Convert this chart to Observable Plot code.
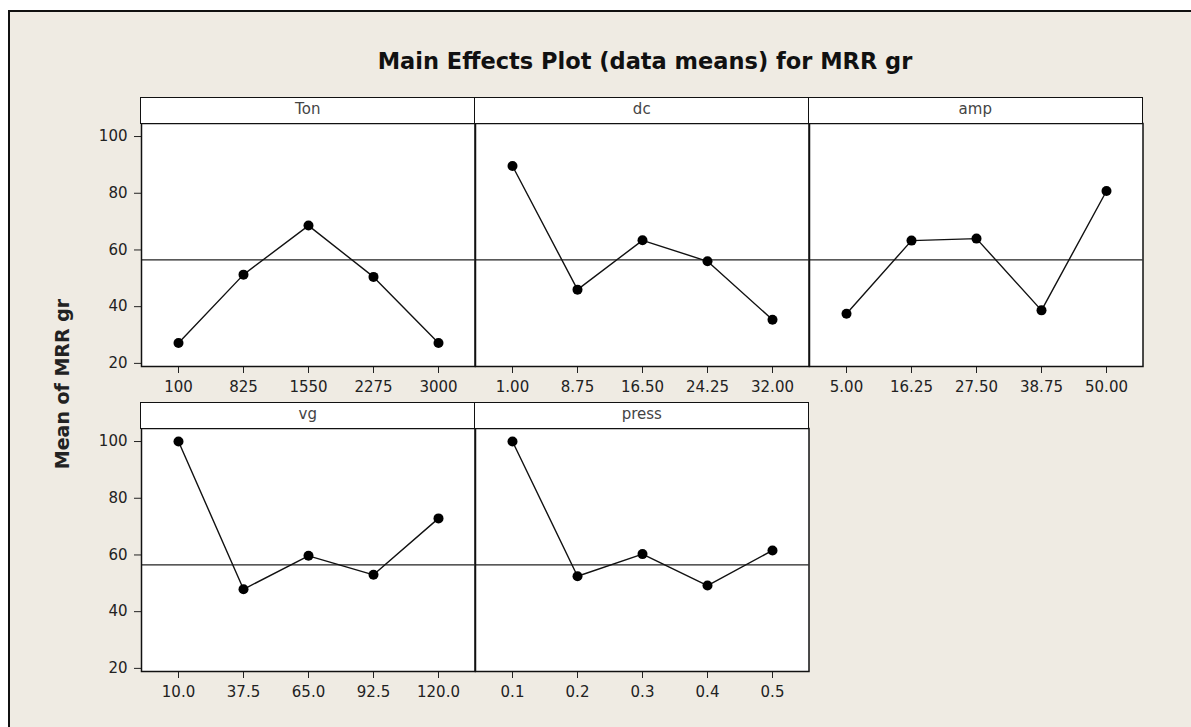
<!DOCTYPE html>
<html>
<head>
<meta charset="utf-8">
<script src="https://cdn.jsdelivr.net/npm/d3@7"></script>
<script src="https://cdn.jsdelivr.net/npm/@observablehq/plot@0.6"></script>
<style>
  html, body { margin: 0; padding: 0; background: #ffffff; }
  #fig { position: absolute; left: 8px; top: 10px; width: 1183px; height: 717px;
         background: #efebe3; border-top: 2px solid #111; border-left: 2px solid #111; box-sizing: border-box; }
  .abs { position: absolute; }
  #title { left: 145px; width: 1000px; top: 48px; text-align: center;
           font-family: "DejaVu Sans", sans-serif; font-weight: bold; font-size: 22.5px; color: #111; }
  #ylab { font-family: "DejaVu Sans", sans-serif; font-weight: bold; font-size: 19px; color: #222;
          transform: translate(-50%, -50%) rotate(-90deg); white-space: nowrap; }
  .strip { box-sizing: border-box; background: #fff; border: 1.5px solid #111; text-align: center;
           font-family: "DejaVu Sans", sans-serif; font-size: 15px; color: #444; line-height: 23px; }
</style>
</head>
<body>
<div id="fig"></div>
<script>
// ---- data ----
const factors = ["Ton", "dc", "amp", "vg", "press"];
const tonLevels = ["100", "825", "1550", "2275", "3000"];
const tonMeans = [27.2, 51.3, 68.6, 50.5, 27.2];
const dcLevels = ["1.00", "8.75", "16.50", "24.25", "32.00"];
const dcMeans = [89.6, 46.0, 63.4, 56.0, 35.4];
const ampLevels = ["5.00", "16.25", "27.50", "38.75", "50.00"];
const ampMeans = [37.5, 63.3, 64.0, 38.7, 80.8];
const vgLevels = ["10.0", "37.5", "65.0", "92.5", "120.0"];
const vgMeans = [100.0, 47.9, 59.7, 53.0, 72.9];
const pressLevels = ["0.1", "0.2", "0.3", "0.4", "0.5"];
const pressMeans = [100.0, 52.5, 60.3, 49.2, 61.6];
const grandMean = 56.5;
const yTicks = [20, 40, 60, 80, 100];
const titleText = "Main Effects Plot (data means) for MRR gr";
const yLabelText = "Mean of MRR gr";

// ---- layout ----
const levelsList = [tonLevels, dcLevels, ampLevels, vgLevels, pressLevels];
const meansList = [tonMeans, dcMeans, ampMeans, vgMeans, pressMeans];
const colLeft = [141, 475, 808.5];
const panelW = 333.5;
const rowPlotTop = [123, 428];
const stripH = 26;
const plotH = 243;
const mL = 50, mB = 40;

const body = document.body;
const title = document.createElement("div");
title.className = "abs"; title.id = "title"; title.textContent = titleText;
body.appendChild(title);

const ylab = document.createElement("div");
ylab.className = "abs"; ylab.id = "ylab"; ylab.textContent = yLabelText;
ylab.style.left = "62px"; ylab.style.top = "384px";
body.appendChild(ylab);

factors.forEach((name, i) => {
  const row = i < 3 ? 0 : 1;
  const col = i < 3 ? i : i - 3;
  const left = colLeft[col];
  const top = rowPlotTop[row];
  const data = levelsList[i].map((lv, j) => ({level: lv, mean: meansList[i][j]}));

  const svg = Plot.plot({
    width: mL + panelW,
    height: plotH + mB,
    marginLeft: mL, marginRight: 0, marginTop: 0, marginBottom: mB,
    style: {background: "transparent", overflow: "visible", fontFamily: "DejaVu Sans, sans-serif",
            fontSize: "15px", color: "#222"},
    x: {type: "point", domain: levelsList[i], padding: 0.53, tickSize: 7, tickPadding: 8, label: null},
    y: {domain: [18.9, 104.6], ticks: yTicks, tickSize: 7, tickPadding: 7, label: null,
        axis: col === 0 ? "left" : null},
    marks: [
      Plot.frame({fill: "white", stroke: "none"}),
      Plot.ruleY([grandMean], {stroke: "#222", strokeWidth: 1.2}),
      Plot.line(data, {x: "level", y: "mean", stroke: "#111", strokeWidth: 1.4}),
      Plot.dot(data, {x: "level", y: "mean", fill: "#000", r: 5}),
      Plot.frame({stroke: "#111", strokeWidth: 1.5})
    ]
  });
  svg.style.position = "absolute";
  svg.style.left = (left - mL) + "px";
  svg.style.top = top + "px";
  body.appendChild(svg);

  const strip = document.createElement("div");
  strip.className = "abs strip";
  strip.textContent = name;
  strip.style.left = (left - 0.75) + "px";
  strip.style.top = (top - stripH) + "px";
  strip.style.width = (panelW + 1.5) + "px";
  strip.style.height = (stripH + 0.75) + "px";
  body.appendChild(strip);
});
</script>
</body>
</html>
